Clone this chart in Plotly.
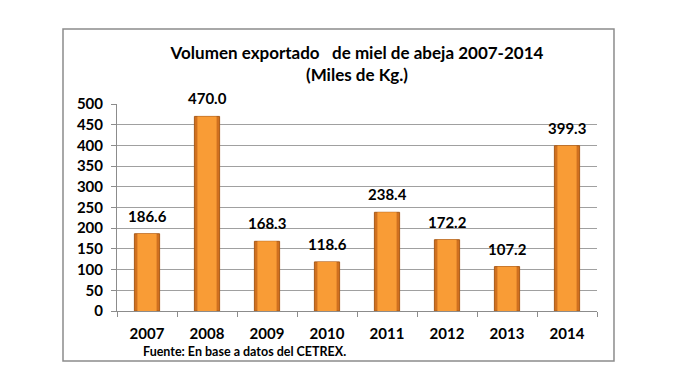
import plotly.graph_objects as go

years = ["2007", "2008", "2009", "2010", "2011", "2012", "2013", "2014"]
volumes = [186.6, 470.0, 168.3, 118.6, 238.4, 172.2, 107.2, 399.3]
y_ticks = [0, 50, 100, 150, 200, 250, 300, 350, 400, 450, 500]

title_text = "<b>Volumen exportado\u00a0\u00a0\u00a0de miel de abeja 2007-2014<br>(Miles de Kg.)</b>"
source_text = "<b>Fuente: En base a datos del CETREX.</b>"

FONT = "Lato"
W, H = 670, 384  # page body adds an 8px offset

fig = go.Figure()
fig.add_trace(go.Bar(
    x=years, y=volumes, width=0.42,
    marker=dict(color="#D0701F", line=dict(color="#A85A18", width=1)),
    hoverinfo="skip", showlegend=False,
))
fig.add_trace(go.Bar(
    x=years, y=volumes, width=0.32,
    marker=dict(color="#F99C36", line=dict(width=0)),
    showlegend=False,
))

for i, v in enumerate(volumes):
    fig.add_annotation(
        x=i, y=v, text=f"<b>{v:.1f}</b>", showarrow=False,
        yanchor="bottom", yshift=7,
        font=dict(family=FONT, size=15, color="black"),
    )

fig.add_annotation(
    xref="paper", yref="paper", x=0.05, y=-0.198, xanchor="left", yanchor="middle",
    text=source_text, showarrow=False,
    font=dict(family=FONT, size=12.5, color="black"),
)

fig.add_shape(
    type="rect", xref="paper", yref="paper",
    x0=-0.1125, x1=1.0354, y0=-0.2415, y1=1.3623,
    line=dict(color="#8C8C8C", width=1.5), fillcolor="rgba(0,0,0,0)", layer="below",
)

fig.update_layout(
    width=W, height=H,
    margin=dict(l=109, r=81, t=96, b=81),
    paper_bgcolor="white", plot_bgcolor="white",
    barmode="overlay",
    title=dict(
        text=title_text, x=0.5, xref="paper", xanchor="center",
        y=(H - 51) / H, yref="container", yanchor="top",
        font=dict(family=FONT, size=17, color="black"),
    ),
    xaxis=dict(
        type="category", range=[-0.5, 7.5], tickson="boundaries", ticks="outside", ticklen=5,
        tickcolor="#8C8C8C", showline=True, linecolor="#8C8C8C", linewidth=1,
        showgrid=False, tickvals=years, ticktext=[f"<b>{y}</b>" for y in years],
        ticklabelstandoff=9,
        tickfont=dict(family=FONT, size=15, color="black"),
    ),
    yaxis=dict(
        range=[0, 500], tickvals=y_ticks, ticktext=[f"<b>{t}</b>" for t in y_ticks],
        ticks="outside", ticklen=5, ticklabelstandoff=5,
        tickcolor="#8C8C8C", showline=True, linecolor="#8C8C8C", linewidth=1,
        showgrid=True, gridcolor="#A0A0A0", gridwidth=1, zeroline=False,
        tickfont=dict(family=FONT, size=15, color="black"),
    ),
)

fig.write_html("out.html")
